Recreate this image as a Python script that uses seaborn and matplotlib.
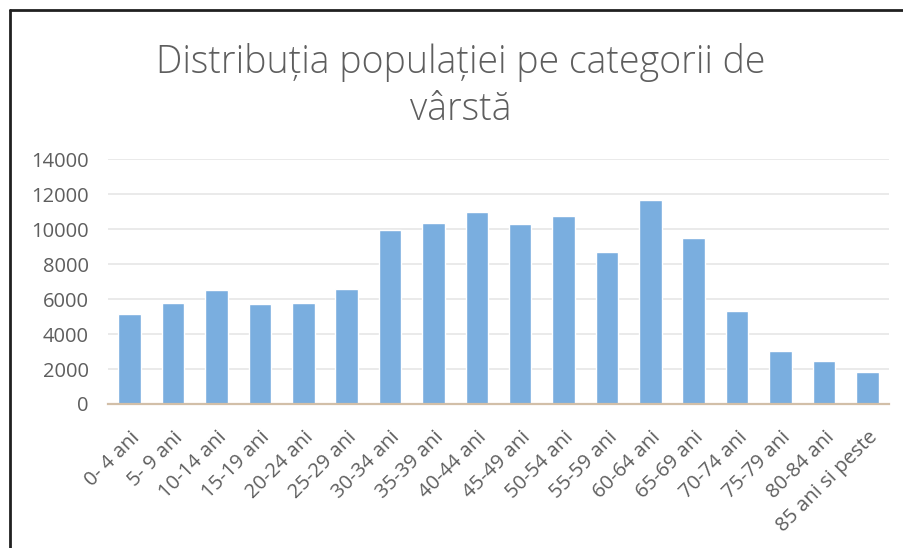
import matplotlib
import matplotlib.pyplot as plt
import pandas as pd
import seaborn as sns
from matplotlib.lines import Line2D

matplotlib.use("Agg")

# ---------------------------------------------------------------------------
# Data
# ---------------------------------------------------------------------------
AGE_GROUPS = [
    "0- 4 ani", "5- 9 ani", "10-14 ani", "15-19 ani", "20-24 ani", "25-29 ani",
    "30-34 ani", "35-39 ani", "40-44 ani", "45-49 ani", "50-54 ani", "55-59 ani",
    "60-64 ani", "65-69 ani", "70-74 ani", "75-79 ani", "80-84 ani", "85 ani si peste",
]
POPULATION = [
    5150, 5760, 6530, 5700, 5760, 6600,
    9960, 10380, 11000, 10300, 10780, 8720,
    11680, 9470, 5340, 3050, 2440, 1810,
]
Y_TICKS = [0, 2000, 4000, 6000, 8000, 10000, 12000, 14000]
TITLE = "Distribuția populației pe categorii de\nvârstă"

BAR_COLOR  = "#7AAEDF"
TEXT_COLOR = "#5E5E5E"
GRID_COLOR = "#E4E4E4"
AXIS_COLOR = "#D2BFA8"

df = pd.DataFrame({"grupa": AGE_GROUPS, "populatie": POPULATION})

sns.set_theme(style="white")
plt.rcParams["font.family"] = ["Open Sans", "DejaVu Sans"]

fig = plt.figure(figsize=(9.04, 5.48), dpi=100)
ax = fig.add_axes([0.1195, 0.2628, 0.8639, 0.4465])

sns.barplot(data=df, x="grupa", y="populatie", color=BAR_COLOR,
            width=0.52, saturation=1, ax=ax, zorder=3)

ax.set_xlim(-0.5, len(AGE_GROUPS) - 0.5)
ax.set_ylim(0, 14000)
ax.set_yticks(Y_TICKS)
ax.set_yticklabels([str(v) for v in Y_TICKS])
for v in Y_TICKS[1:]:
    ax.axhline(v, color=GRID_COLOR, lw=1.1, zorder=1)

ax.set_xlabel("")
ax.set_ylabel("")
for side in ["top", "right", "left"]:
    ax.spines[side].set_visible(False)
ax.spines["bottom"].set_color(AXIS_COLOR)
ax.spines["bottom"].set_linewidth(1.6)
ax.spines["bottom"].set_zorder(4)

ax.tick_params(axis="y", length=0, pad=14, labelsize=14.5, labelcolor=TEXT_COLOR)
ax.tick_params(axis="x", length=0, pad=17, labelsize=14.5, labelcolor=TEXT_COLOR)
plt.setp(ax.get_xticklabels(), rotation=45, ha="right", rotation_mode="anchor")

fig.text(0.51, 0.843, TITLE, ha="center", va="center", fontsize=27,
         color=TEXT_COLOR, linespacing=1.3, fontweight="light")

# thin frame around the chart (top and left edges)
fig.add_artist(Line2D([0.0115, 1.0], [0.982, 0.982], transform=fig.transFigure,
                      color="#202020", lw=2))
fig.add_artist(Line2D([0.0115, 0.0115], [0.0, 0.982], transform=fig.transFigure,
                      color="#202020", lw=2))

fig.savefig("out.png", dpi=100)
plt.close(fig)
